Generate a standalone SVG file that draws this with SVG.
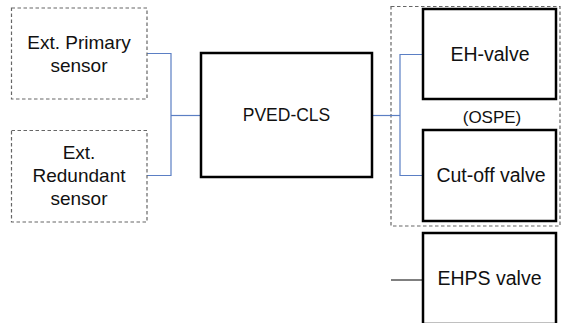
<svg xmlns="http://www.w3.org/2000/svg" width="561" height="323" viewBox="0 0 561 323">
<style>
  .dash { fill: #fff; stroke: #666; stroke-width: 1.2; stroke-dasharray: 3.5 2.5; }
  .box { fill: #fff; stroke: #000; stroke-width: 2.5; }
  .lbl { font-family: "Liberation Sans", Arial, sans-serif; font-size: 19px; fill: #111; text-anchor: middle; }
  .val { font-size: 19.5px; }
  .conn { fill: none; stroke: #5b7fc4; stroke-width: 1.2; }
  .blk { fill: none; stroke: #000; stroke-width: 1; }
</style>
<rect width="561" height="323" fill="#fff"/>
<g id="ospe-group">
  <rect class="dash" x="391" y="6.5" width="169" height="219.5" style="fill:none"/>
  <text class="lbl" x="492" y="123" style="font-size:17px">(OSPE)</text>
</g>
<g id="connectors">
  <polyline class="conn" points="147,53.5 171,53.5 171,175.5 147,175.5"/>
  <line class="conn" x1="171" y1="115.5" x2="201" y2="115.5"/>
  <line class="conn" x1="372" y1="115.5" x2="400" y2="115.5"/>
  <polyline class="conn" points="423,54.5 400,54.5 400,175.5 423,175.5"/>
  <line class="blk" x1="391" y1="280" x2="423" y2="280"/>
</g>
<g id="primary-sensor">
  <rect class="dash" x="11.5" y="8" width="135.5" height="91"/>
  <text class="lbl" x="79" y="48.5">Ext. Primary</text>
  <text class="lbl" x="79" y="71.5">sensor</text>
</g>
<g id="redundant-sensor">
  <rect class="dash" x="11.5" y="130.5" width="135.5" height="91.5"/>
  <text class="lbl" x="79" y="158.5">Ext.</text>
  <text class="lbl" x="79" y="181.5">Redundant</text>
  <text class="lbl" x="79" y="204.5">sensor</text>
</g>
<g id="pved-cls">
  <rect class="box" x="201" y="53" width="171" height="124"/>
  <text class="lbl" x="286.5" y="121" style="font-size:17.5px">PVED-CLS</text>
</g>
<g id="eh-valve">
  <rect class="box" x="423" y="9" width="133" height="90"/>
  <text class="lbl val" x="490" y="61">EH-valve</text>
</g>
<g id="cutoff-valve">
  <rect class="box" x="423" y="130" width="133" height="91"/>
  <text class="lbl val" x="491" y="182">Cut-off valve</text>
</g>
<g id="ehps-valve">
  <rect class="box" x="423" y="233" width="133" height="91"/>
  <text class="lbl val" x="489.5" y="285">EHPS valve</text>
</g>
</svg>
